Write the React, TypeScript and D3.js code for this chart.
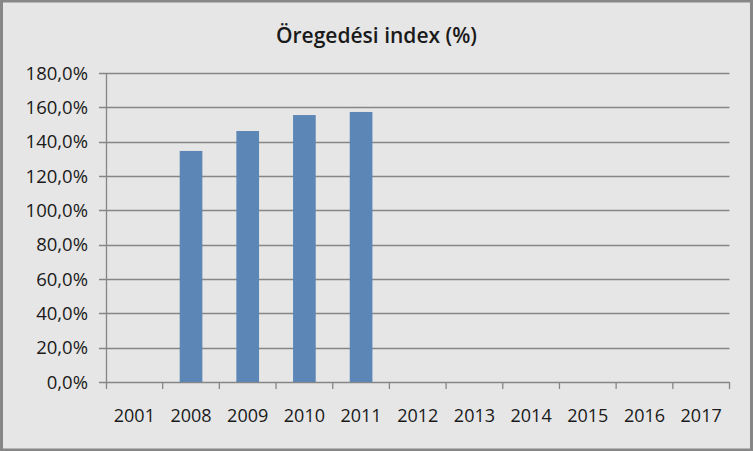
import React from "react";
import * as d3 from "d3";

const categories = ["2001", "2008", "2009", "2010", "2011", "2012", "2013", "2014", "2015", "2016", "2017"];
const values: (number | null)[] = [null, 134.6, 146.2, 155.5, 157.3, null, null, null, null, null, null];
const yTicks = [0, 20, 40, 60, 80, 100, 120, 140, 160, 180];
const title = "Öregedési index (%)";

const W = 753;
const H = 451;
const left = 106;
const right = 729.5;
const top = 73;
const bottom = 382;
const font = "'Open Sans', sans-serif";

export default function App() {
  const x = d3.scaleBand<string>().domain(categories).range([left, right]).paddingInner(0.6).paddingOuter(0.3);
  const xEdge = d3.scaleBand<string>().domain(categories).range([left, right]);
  const y = d3.scaleLinear().domain([0, 180]).range([bottom, top]);
  const fmt = (v: number) => v.toFixed(1).replace(".", ",") + "%";

  return (
    <div style={{ position: "absolute", left: 0, top: 0 }}>
      <svg width={W} height={H} style={{ display: "block" }}>
        <rect x={0} y={0} width={W} height={H} fill="#e6e6e6" />
        <rect x={1.5} y={1} width={W - 3} height={H - 2} fill="none" stroke="#878787" strokeWidth={3} />
        <text x={376.5} y={43} textAnchor="middle" fontFamily={font} fontWeight={600} fontSize={21} fill="#1a1a1a">
          {title}
        </text>
        {yTicks.map((t) => (
          <g key={t}>
            <line x1={99} x2={right} y1={Math.round(y(t)) + 0.5} y2={Math.round(y(t)) + 0.5} stroke="#868686" strokeWidth={1.3} />
            <text x={88} y={y(t) + 6.5} textAnchor="end" fontFamily={font} fontSize={18.5} fill="#1a1a1a">
              {fmt(t)}
            </text>
          </g>
        ))}
        {categories.map((c, i) => {
          const v = values[i];
          return v == null ? null : (
            <rect key={c} x={x(c)} y={y(v)} width={x.bandwidth()} height={y(0) - y(v)} fill="#5b86b5" />
          );
        })}
        <line x1={left + 0.5} x2={left + 0.5} y1={top} y2={389} stroke="#868686" strokeWidth={1.3} />
        {categories.map((c) => (
          <line key={"t" + c} x1={(xEdge(c) as number) + xEdge.bandwidth()} x2={(xEdge(c) as number) + xEdge.bandwidth()} y1={bottom} y2={389} stroke="#868686" strokeWidth={1.3} />
        ))}
        {categories.map((c) => (
          <text key={"l" + c} x={(xEdge(c) as number) + xEdge.bandwidth() / 2} y={421.5} textAnchor="middle" fontFamily={font} fontSize={18} fill="#1a1a1a">
            {c}
          </text>
        ))}
      </svg>
    </div>
  );
}
